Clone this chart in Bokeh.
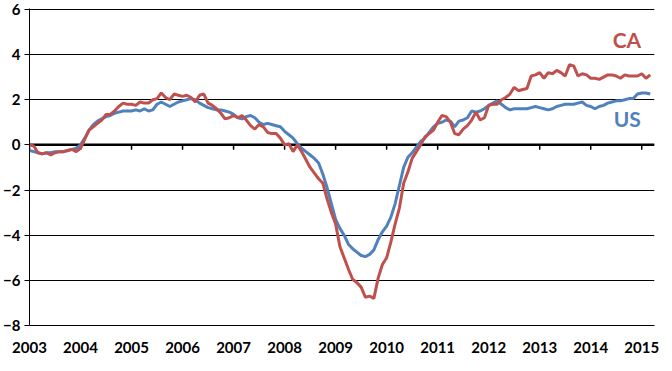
from bokeh.plotting import figure
from bokeh.models import Range1d, FixedTicker, Span, Label, ColumnDataSource
from bokeh.embed import file_html
from bokeh.resources import INLINE

start_year = 2003

ca = [0.0, -0.05, -0.35, -0.4, -0.35, -0.45, -0.35, -0.3, -0.3, -0.25, -0.2, -0.3,
      -0.15, 0.25, 0.65, 0.8, 0.95, 1.1, 1.35, 1.35, 1.5, 1.7, 1.85, 1.8,
      1.8, 1.75, 1.9, 1.85, 1.85, 2.0, 2.05, 2.3, 2.1, 2.0, 2.25, 2.2,
      2.15, 2.2, 2.1, 1.9, 2.2, 2.25, 1.85, 1.75, 1.6, 1.4, 1.15, 1.2,
      1.3, 1.2, 1.3, 1.1, 0.85, 0.7, 0.9, 0.8, 0.55, 0.5, 0.5, 0.3,
      0.0, 0.05, -0.3, 0.0, -0.3, -0.65, -1.0, -1.25, -1.5, -1.7, -2.4, -3.0,
      -3.5, -4.5, -5.0, -5.5, -5.95, -6.1, -6.3, -6.75, -6.7, -6.8, -5.9, -5.3,
      -5.0, -4.3, -3.5, -2.8, -1.7, -1.2, -0.6, -0.3, 0.0, 0.35, 0.5, 0.65,
      1.0, 1.3, 1.25, 1.0, 0.5, 0.45, 0.7, 0.85, 1.1, 1.45, 1.1, 1.2,
      1.75, 1.8, 1.8, 2.0, 2.1, 2.25, 2.55, 2.4, 2.45, 2.5, 3.05, 3.1,
      3.2, 2.95, 3.2, 3.15, 3.3, 3.2, 3.05, 3.55, 3.5, 3.05, 3.15, 3.1,
      2.95, 2.95, 2.9, 3.0, 3.1, 3.1, 3.05, 2.95, 3.1, 3.05, 3.05, 3.05,
      3.15, 2.95, 3.1]

us = [-0.25, -0.3, -0.35, -0.4, -0.35, -0.35, -0.3, -0.3, -0.3, -0.25, -0.2, -0.15,
      0.0, 0.3, 0.65, 0.9, 1.05, 1.15, 1.25, 1.3, 1.4, 1.45, 1.5, 1.5,
      1.5, 1.55, 1.5, 1.6, 1.5, 1.55, 1.8, 1.9, 1.8, 1.7, 1.8, 1.9,
      1.95, 2.0, 2.05, 2.0, 1.85, 1.75, 1.65, 1.6, 1.55, 1.55, 1.5, 1.45,
      1.35, 1.2, 1.15, 1.25, 1.3, 1.2, 1.0, 0.9, 0.95, 0.9, 0.85, 0.8,
      0.6, 0.45, 0.3, 0.05, -0.15, -0.3, -0.45, -0.6, -0.8, -1.3, -1.9, -2.6,
      -3.3, -3.7, -4.0, -4.4, -4.6, -4.75, -4.9, -4.95, -4.85, -4.65, -4.2, -3.85,
      -3.6, -3.2, -2.6, -1.8, -1.0, -0.55, -0.35, -0.1, 0.15, 0.3, 0.55, 0.8,
      0.95, 1.0, 1.1, 1.05, 0.8, 1.05, 1.1, 1.2, 1.5, 1.45, 1.5, 1.6,
      1.75, 1.85, 1.95, 1.8, 1.65, 1.55, 1.6, 1.6, 1.6, 1.6, 1.65, 1.7,
      1.65, 1.6, 1.55, 1.6, 1.7, 1.75, 1.8, 1.8, 1.8, 1.85, 1.9, 1.75,
      1.7, 1.6, 1.7, 1.75, 1.85, 1.9, 1.95, 1.95, 2.0, 2.05, 2.05, 2.25,
      2.3, 2.3, 2.25]

year_ticks = list(range(2003, 2016))
y_ticks = [-8, -6, -4, -2, 0, 2, 4, 6]
series_names = ["CA", "US"]

RED = "#C0504D"
BLUE = "#4F81BD"
FONT = "Lato"

months = [start_year + i / 12 for i in range(len(ca))]
src = ColumnDataSource(dict(x=months, ca=ca, us=us))

p = figure(width=664, height=355, output_backend="svg", toolbar_location=None,
           x_range=Range1d(2003, 2015.25), y_range=Range1d(-8, 6.04),
           min_border_left=0, min_border_right=10, min_border_top=8,
           min_border_bottom=0)
p.outline_line_color = None
p.background_fill_color = "white"
p.border_fill_color = "white"

# grid
p.xgrid.grid_line_color = None
p.ygrid.grid_line_color = "black"
p.ygrid.grid_line_width = 1
p.ygrid.ticker = FixedTicker(ticks=y_ticks)

# y axis
p.yaxis.ticker = FixedTicker(ticks=y_ticks)
p.yaxis.axis_line_color = "black"
p.yaxis.axis_line_width = 1
p.yaxis.major_tick_line_color = "black"
p.yaxis.major_tick_out = 5
p.yaxis.major_tick_in = 0
p.yaxis.minor_tick_line_color = None
p.yaxis.major_label_standoff = 4
p.yaxis.major_label_text_font = FONT
p.yaxis.major_label_text_font_style = "bold"
p.yaxis.major_label_text_font_size = "15px"
p.yaxis.major_label_text_color = "black"

# x axis (labels at bottom, line at -8)
p.xaxis.ticker = FixedTicker(ticks=year_ticks)
p.xaxis.axis_line_color = "black"
p.xaxis.axis_line_width = 1
p.xaxis.major_tick_line_color = None
p.xaxis.minor_tick_line_color = None
p.xaxis.major_tick_out = 0
p.xaxis.major_tick_in = 0
p.xaxis.major_label_standoff = 16
p.xaxis.major_label_text_font = FONT
p.xaxis.major_label_text_font_style = "bold"
p.xaxis.major_label_text_font_size = "15px"
p.xaxis.major_label_text_color = "black"

# zero line with tick marks
zero = Span(location=0, dimension="width", line_color="black", line_width=2.5,
            level="underlay")
p.add_layout(zero)
p.segment(x0=year_ticks, x1=year_ticks, y0=[0] * len(year_ticks),
          y1=[-0.22] * len(year_ticks), line_color="black", line_width=1.5)

# series
p.line("x", "us", source=src, line_color=BLUE, line_width=3)
p.line("x", "ca", source=src, line_color=RED, line_width=3)

p.add_layout(Label(x=2014.43, y=4.1, text=series_names[0], text_color=RED,
                   text_font=FONT, text_font_style="bold", text_font_size="21px"))
p.add_layout(Label(x=2014.45, y=0.6, text=series_names[1], text_color=BLUE,
                   text_font=FONT, text_font_style="bold", text_font_size="21px"))

open("out.html", "w").write(file_html(p, INLINE))
